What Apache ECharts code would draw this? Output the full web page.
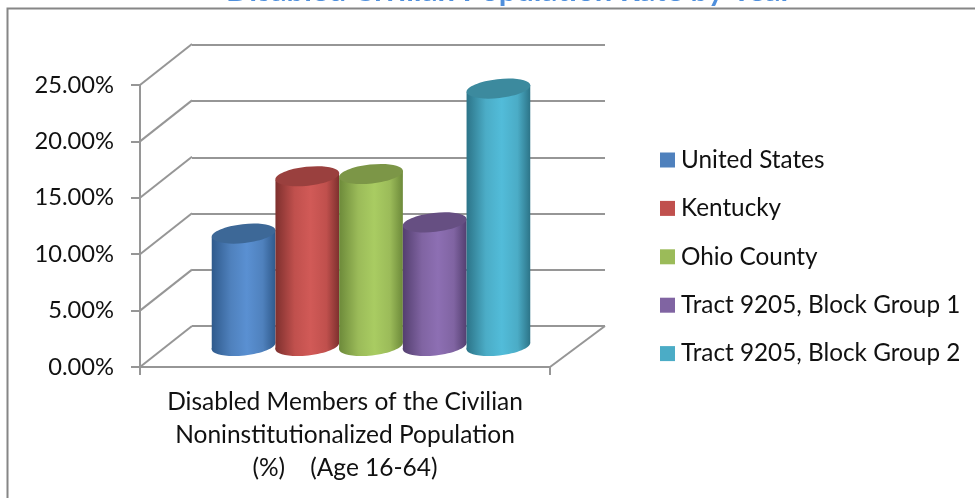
<!DOCTYPE html>
<html><head><meta charset="utf-8">
<style>html,body{margin:0;padding:0;background:#fff;overflow:hidden}#c{width:975px;height:498px}</style>
<script src="https://cdn.jsdelivr.net/npm/echarts@6/dist/echarts.min.js"></script>
</head><body><div id="c"></div>
<script>
const categoryLabel = 'Disabled Members of the Civilian\nNoninstitutionalized Population\n(%)    (Age 16-64)';
const seriesNames = ['United States','Kentucky','Ohio County','Tract 9205, Block Group 1','Tract 9205, Block Group 2'];
const seriesValues = [10.0, 15.1, 15.3, 11.0, 22.9];
const seriesColors = ['#4f81bd','#c0504d','#9bbb59','#8064a2','#4bacc6'];
const seriesLight = ['#5a90d2','#d15a57','#a9cc62','#8d6fb3','#52bcd9'];
const seriesDark = ['#2f5a8c','#7e302e','#6d8a3a','#543f70','#2c7488'];
const seriesTop = ['#3d6897','#9a403e','#7c9647','#664f82','#3c8a9e'];
const yTicks = [0,5,10,15,20,25];
const titleText = 'Disabled Civilian Population Rate by Year';
const FONT = 'Lato';
const GRID = '#969696';

function renderCyl(params, api){
  const idx = params.seriesIndex - 2;
  const i = api.value(0), v = api.value(1);
  const base = api.coord([i,0]), top = api.coord([i,v]);
  const band = api.size([1,0])[0];
  const w = band*0.155;
  const cx = base[0] + (idx-2)*w;
  const rot = 0.11;
  const rx = w/2/Math.cos(rot), ry = 9.5;
  const dy = w/2*Math.tan(rot);
  const grad = {type:'linear',x:0,y:0,x2:1,y2:0,colorStops:[
    {offset:0,color:seriesDark[idx]},{offset:0.3,color:seriesColors[idx]},
    {offset:0.55,color:seriesLight[idx]},{offset:0.8,color:seriesColors[idx]},{offset:1,color:seriesDark[idx]}]};
  const l = cx-w/2, r = cx+w/2;
  return {type:'group',children:[
    {type:'ellipse',shape:{cx:cx,cy:base[1],rx:rx,ry:ry},rotation:rot,originX:cx,originY:base[1],style:{fill:grad}},
    {type:'polygon',shape:{points:[[l,top[1]+dy],[r,top[1]-dy],[r,base[1]-dy],[l,base[1]+dy]]},style:{fill:grad}},
    {type:'ellipse',shape:{cx:cx,cy:top[1],rx:rx,ry:ry},rotation:rot,originX:cx,originY:top[1],style:{fill:seriesTop[idx]}}
  ]};
}
function renderSide(params, api){
  const p = api.coord([0,api.value(0)]);
  const x = p[0]-api.size([1,0])[0]/2;
  return {type:'line',shape:{x1:x,y1:p[1],x2:x+52,y2:p[1]-41},style:{stroke:GRID,lineWidth:2}};
}
function renderFloorEdge(params, api){
  const p = api.coord([0,0]);
  const x = p[0]+api.size([1,0])[0]/2;
  return {type:'line',shape:{x1:x,y1:p[1],x2:x+55,y2:p[1]-41},style:{stroke:GRID,lineWidth:2}};
}
const option = {
  animation:false,
  backgroundColor:'#fff',
  title:{text:titleText,left:504,top:-30,textAlign:'center',textStyle:{fontFamily:FONT,fontSize:31,fontWeight:'bold',color:'#4f8fdc'}},
  graphic:[{type:'rect',shape:{x:7.5,y:8.5,width:1100,height:700},style:{fill:'none',stroke:'#868686',lineWidth:2},z:-1}],
  legend:{show:true,orient:'vertical',left:660,top:146,padding:0,itemWidth:15,itemHeight:15,itemGap:20.4,
    data:seriesNames.map((n,i)=>({name:n,icon:'rect',itemStyle:{color:seriesColors[i]}})),
    textStyle:{fontFamily:FONT,fontSize:24.3,lineHeight:28,color:'#111',padding:[0,0,0,1]}},
  grid:[
    {left:140,width:410,top:85,height:282},
    {left:192,width:413,top:45,height:281},
    {left:165.5,width:411,top:65,height:281}
  ],
  xAxis:[
    {type:'category',gridIndex:0,data:[categoryLabel],boundaryGap:true,
      axisLine:{lineStyle:{color:GRID,width:2}},axisTick:{show:true,length:8,lineStyle:{color:GRID,width:2}},
      axisLabel:{fontFamily:FONT,fontSize:24.5,color:'#111',lineHeight:33,margin:19,interval:0}},
    {type:'category',gridIndex:1,data:[categoryLabel],show:false},
    {type:'category',gridIndex:2,data:[categoryLabel],show:false}
  ],
  yAxis:[
    {type:'value',gridIndex:0,min:0,max:25,interval:5,
      axisLine:{show:true,lineStyle:{color:GRID,width:2}},axisTick:{show:true,length:9,lineStyle:{color:GRID,width:2}},
      axisLabel:{fontFamily:FONT,fontSize:23.7,color:'#111',margin:26,padding:[2,0,0,0],formatter:v=>v.toFixed(2)+'%'},splitLine:{show:false}},
    {type:'value',gridIndex:1,min:0,max:25,interval:5,axisLine:{show:false},axisTick:{show:false},axisLabel:{show:false},
      splitLine:{show:true,lineStyle:{color:GRID,width:2}}},
    {type:'value',gridIndex:2,min:0,max:25,interval:5,show:false}
  ],
  series:[
    {type:'custom',xAxisIndex:0,yAxisIndex:0,data:yTicks.map(t=>[t]),renderItem:renderSide,encode:{y:0},silent:true,z:1},
    {type:'custom',xAxisIndex:0,yAxisIndex:0,data:[[0]],renderItem:renderFloorEdge,encode:{y:0},silent:true,z:1},
    ...seriesNames.map((n,i)=>({name:n,type:'custom',xAxisIndex:2,yAxisIndex:2,
      data:[[0,seriesValues[i]]],encode:{x:0,y:1},renderItem:renderCyl,z:3+i,
      itemStyle:{color:seriesColors[i]}}))
  ]
};
echarts.init(document.getElementById('c'),null,{renderer:'canvas'}).setOption(option);
</script></body></html>
